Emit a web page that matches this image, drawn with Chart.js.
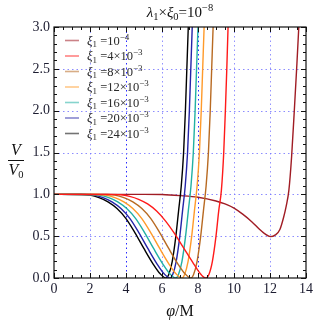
<!DOCTYPE html>
<html>
<head>
<meta charset="utf-8">
<script src="https://cdn.jsdelivr.net/npm/chart.js@4.4.1/dist/chart.umd.min.js"></script>
<style>
  html, body { margin: 0; padding: 0; background: #fff; }
  #wrap { width: 324px; height: 324px; }
</style>
</head>
<body>
<div id="wrap"><canvas id="potChart" width="324" height="324"></canvas></div>
<script>
// legend text: xi_1 = mant x 10^exp
const xiMant = ['', '4', '8', '12', '16', '20', '24'];
const xiExp = ['\u22124', '\u22123', '\u22123', '\u22123', '\u22123', '\u22123', '\u22123'];
const colors = ['#a01c24', '#ff1a1a', '#b86a22', '#ff9a2a', '#22b0a4', '#2424a8', '#000000'];

// curves (phi/M, V/V0)
const phiA = [0, 5, 6, 7, 8, 9, 9.5, 10, 10.5, 11, 11.4, 11.7, 12.02, 12.3, 12.55, 12.75, 12.9, 13.05, 13.2, 13.35, 13.48, 13.6, 13.66];
const vA   = [1, 1, 0.998, 0.985, 0.965, 0.92, 0.885, 0.835, 0.76, 0.67, 0.585, 0.53, 0.494, 0.515, 0.58, 0.72, 0.86, 1.05, 1.45, 2.0, 2.5, 3.0, 3.3];

const phiB = [0, 3.0, 3.7, 4.2, 4.7, 5.2, 5.7, 6.2, 6.7, 7.2, 7.7, 8.1, 8.42, 8.6, 8.8, 9.0, 9.15, 9.3, 9.43, 9.52, 9.6, 9.67, 9.72];
const vB   = [1, 1, 0.995, 0.975, 0.94, 0.885, 0.8, 0.68, 0.53, 0.36, 0.19, 0.06, 0, 0.04, 0.2, 0.5, 0.8, 1.05, 1.5, 2.0, 2.5, 3.0, 3.4];

const phiC = [0, 2.88, 3.38, 3.88, 4.38, 4.88, 5.38, 5.88, 6.38, 6.88, 7.28, 7.6, 7.75, 7.95, 8.15, 8.3, 8.45, 8.58, 8.68, 8.76, 8.84, 8.9];
const phiD = [0, 2.38, 2.88, 3.38, 3.88, 4.38, 4.88, 5.38, 5.88, 6.38, 6.78, 7.1, 7.25, 7.45, 7.65, 7.8, 7.95, 8.08, 8.18, 8.26, 8.34, 8.4];
const phiE = [0, 2.04, 2.54, 3.04, 3.54, 4.04, 4.54, 5.04, 5.54, 6.04, 6.44, 6.76, 6.91, 7.11, 7.31, 7.46, 7.61, 7.74, 7.84, 7.92, 8.0, 8.06];
const phiF = [0, 1.72, 2.22, 2.72, 3.22, 3.72, 4.22, 4.72, 5.22, 5.72, 6.12, 6.44, 6.59, 6.79, 6.99, 7.14, 7.29, 7.42, 7.52, 7.6, 7.68, 7.74];
const phiG = [0, 1.5, 2.0, 2.5, 3.0, 3.5, 4.0, 4.5, 5.0, 5.5, 5.9, 6.22, 6.37, 6.57, 6.77, 6.92, 7.07, 7.2, 7.3, 7.38, 7.46, 7.52];
const vC   = [1, 0.998, 0.99, 0.96, 0.91, 0.83, 0.71, 0.54, 0.35, 0.17, 0.05, 0, 0.04, 0.2, 0.5, 0.8, 1.1, 1.5, 2.0, 2.5, 3.0, 3.4];
const vD = vC, vE = vC, vF = vC, vG = vC;

const xTicks = [0, 2, 4, 6, 8, 10, 12, 14];
const yTicks = [0, 0.5, 1, 1.5, 2, 2.5, 3];

const serif = "'Liberation Serif', 'DejaVu Serif', serif";

const series = [[phiA, vA], [phiB, vB], [phiC, vC], [phiD, vD], [phiE, vE], [phiF, vF], [phiG, vG]];
const datasets = series.map(([px, pv], i) => ({
  data: px.map((p, k) => ({ x: p, y: pv[k] })),
  borderColor: colors[i],
  borderWidth: 1.4,
  pointRadius: 0,
  showLine: true,
  fill: false,
  cubicInterpolationMode: 'monotone',
  order: i === 0 ? 10 : i
}));

// draw a run of text pieces with sub / superscripts
function drawRich(ctx, parts, x, y, align) {
  let w = 0;
  parts.forEach(p => {
    ctx.font = (p.it ? 'italic ' : '') + p.s + 'px ' + serif;
    p.w = ctx.measureText(p.t).width;
    w += p.w;
  });
  let cx = align === 'center' ? x - w / 2 : x;
  parts.forEach(p => {
    ctx.font = (p.it ? 'italic ' : '') + p.s + 'px ' + serif;
    ctx.fillText(p.t, cx, y + (p.dy || 0));
    cx += p.w;
  });
}

const decor = {
  id: 'decor',
  beforeDatasetsDraw(chart) {
    const { ctx, chartArea: a, scales: { x, y } } = chart;
    ctx.save();
    ctx.lineWidth = 1;
    xTicks.slice(1, -1).forEach(v => {
      const px = Math.round(x.getPixelForValue(v)) + 0.5;
      ctx.strokeStyle = (v === 4 || v === 8) ? 'rgba(30,30,255,0.95)' : 'rgba(110,110,255,0.75)';
      ctx.setLineDash([1.5, 3]);
      ctx.beginPath(); ctx.moveTo(px, a.top); ctx.lineTo(px, a.bottom); ctx.stroke();
    });
    yTicks.slice(1, -1).forEach(v => {
      const py = Math.round(y.getPixelForValue(v)) + 0.5;
      ctx.strokeStyle = 'rgba(120,120,255,0.85)';
      ctx.setLineDash([1.5, 3]);
      ctx.beginPath(); ctx.moveTo(a.left, py); ctx.lineTo(a.right, py); ctx.stroke();
    });
    ctx.restore();
  },
  afterDatasetsDraw(chart) {
    const { ctx, chartArea: a, scales: { x, y } } = chart;
    ctx.save();
    ctx.strokeStyle = '#111';
    ctx.lineWidth = 1;
    // inward ticks on all four sides
    for (let v = 0; v <= 14.001; v += 0.5) {
      const px = Math.round(x.getPixelForValue(v)) + 0.5;
      const len = Math.abs(v / 2 - Math.round(v / 2)) < 1e-6 ? 5 : 3;
      ctx.beginPath();
      ctx.moveTo(px, a.bottom); ctx.lineTo(px, a.bottom - len);
      ctx.moveTo(px, a.top); ctx.lineTo(px, a.top + len);
      ctx.stroke();
    }
    for (let k = 0; k <= 30; k++) {
      const v = k / 10;
      const py = Math.round(y.getPixelForValue(v)) + 0.5;
      const len = k % 5 === 0 ? 5 : 3;
      ctx.beginPath();
      ctx.moveTo(a.left, py); ctx.lineTo(a.left + len, py);
      ctx.moveTo(a.right, py); ctx.lineTo(a.right - len, py);
      ctx.stroke();
    }
    ctx.lineWidth = 1.2;
    ctx.strokeRect(a.left, a.top, a.right - a.left, a.bottom - a.top);

    // legend
    ctx.fillStyle = '#2a2a2a';
    ctx.textBaseline = 'alphabetic';
    colors.forEach((c, i) => {
      const ly = 40 + i * 15.5;
      ctx.globalAlpha = 0.55;
      ctx.strokeStyle = c;
      ctx.lineWidth = 1.6;
      ctx.beginPath(); ctx.moveTo(65, ly + 0.5); ctx.lineTo(79, ly + 0.5); ctx.stroke();
      ctx.globalAlpha = 1;
      const parts = [{ t: '\u03be', s: 13, it: true }, { t: '1', s: 9, dy: 2.5 }, { t: ' =', s: 12.5 }];
      if (xiMant[i]) parts.push({ t: xiMant[i] + '\u00d7', s: 12.5 });
      parts.push({ t: '10', s: 12.5 }, { t: xiExp[i], s: 9, dy: -5 });
      drawRich(ctx, parts, 87, ly + 4.5, 'left');
    });

    // title
    ctx.fillStyle = '#111';
    drawRich(ctx, [
      { t: '\u03bb', s: 15, it: true }, { t: '1', s: 10.5, dy: 3 }, { t: '\u00d7', s: 15 },
      { t: '\u03be', s: 15, it: true }, { t: '0', s: 10.5, dy: 3 }, { t: '=10', s: 15 },
      { t: '\u22128', s: 10.5, dy: -6 }
    ], 180, 17, 'center');

    // axis titles
    drawRich(ctx, [{ t: '\u03c6', s: 16, it: true }, { t: '/M', s: 16 }], 180, 316, 'center');
    drawRich(ctx, [{ t: 'V', s: 16, it: true }], 16, 155, 'center');
    ctx.strokeStyle = '#111';
    ctx.lineWidth = 1;
    ctx.beginPath(); ctx.moveTo(8, 160.5); ctx.lineTo(24, 160.5); ctx.stroke();
    drawRich(ctx, [{ t: 'V', s: 16, it: true }, { t: '0', s: 10.5, dy: 3 }], 16, 175, 'center');
    ctx.restore();
  }
};

new Chart(document.getElementById('potChart'), {
  type: 'scatter',
  data: { datasets },
  options: {
    responsive: false,
    animation: false,
    layout: { padding: { top: 27, right: 18, left: 0, bottom: 0 } },
    plugins: { legend: { display: false }, tooltip: { enabled: false } },
    scales: {
      x: {
        type: 'linear', min: 0, max: 14,
        afterFit: s => { s.height = 46; },
        afterBuildTicks: s => { s.ticks = xTicks.map(v => ({ value: v })); },
        grid: { display: false, drawTicks: false },
        border: { display: false },
        ticks: { padding: 3, color: '#1c1c30', font: { family: serif, size: 14 }, maxRotation: 0 }
      },
      y: {
        type: 'linear', min: 0, max: 3,
        afterFit: s => { s.width = 54; },
        afterBuildTicks: s => { s.ticks = yTicks.map(v => ({ value: v })); },
        grid: { display: false, drawTicks: false },
        border: { display: false },
        ticks: { padding: 4, color: '#1c1c30', font: { family: serif, size: 14 }, callback: v => v.toFixed(1) }
      }
    }
  },
  plugins: [decor]
});
</script>
</body>
</html>
